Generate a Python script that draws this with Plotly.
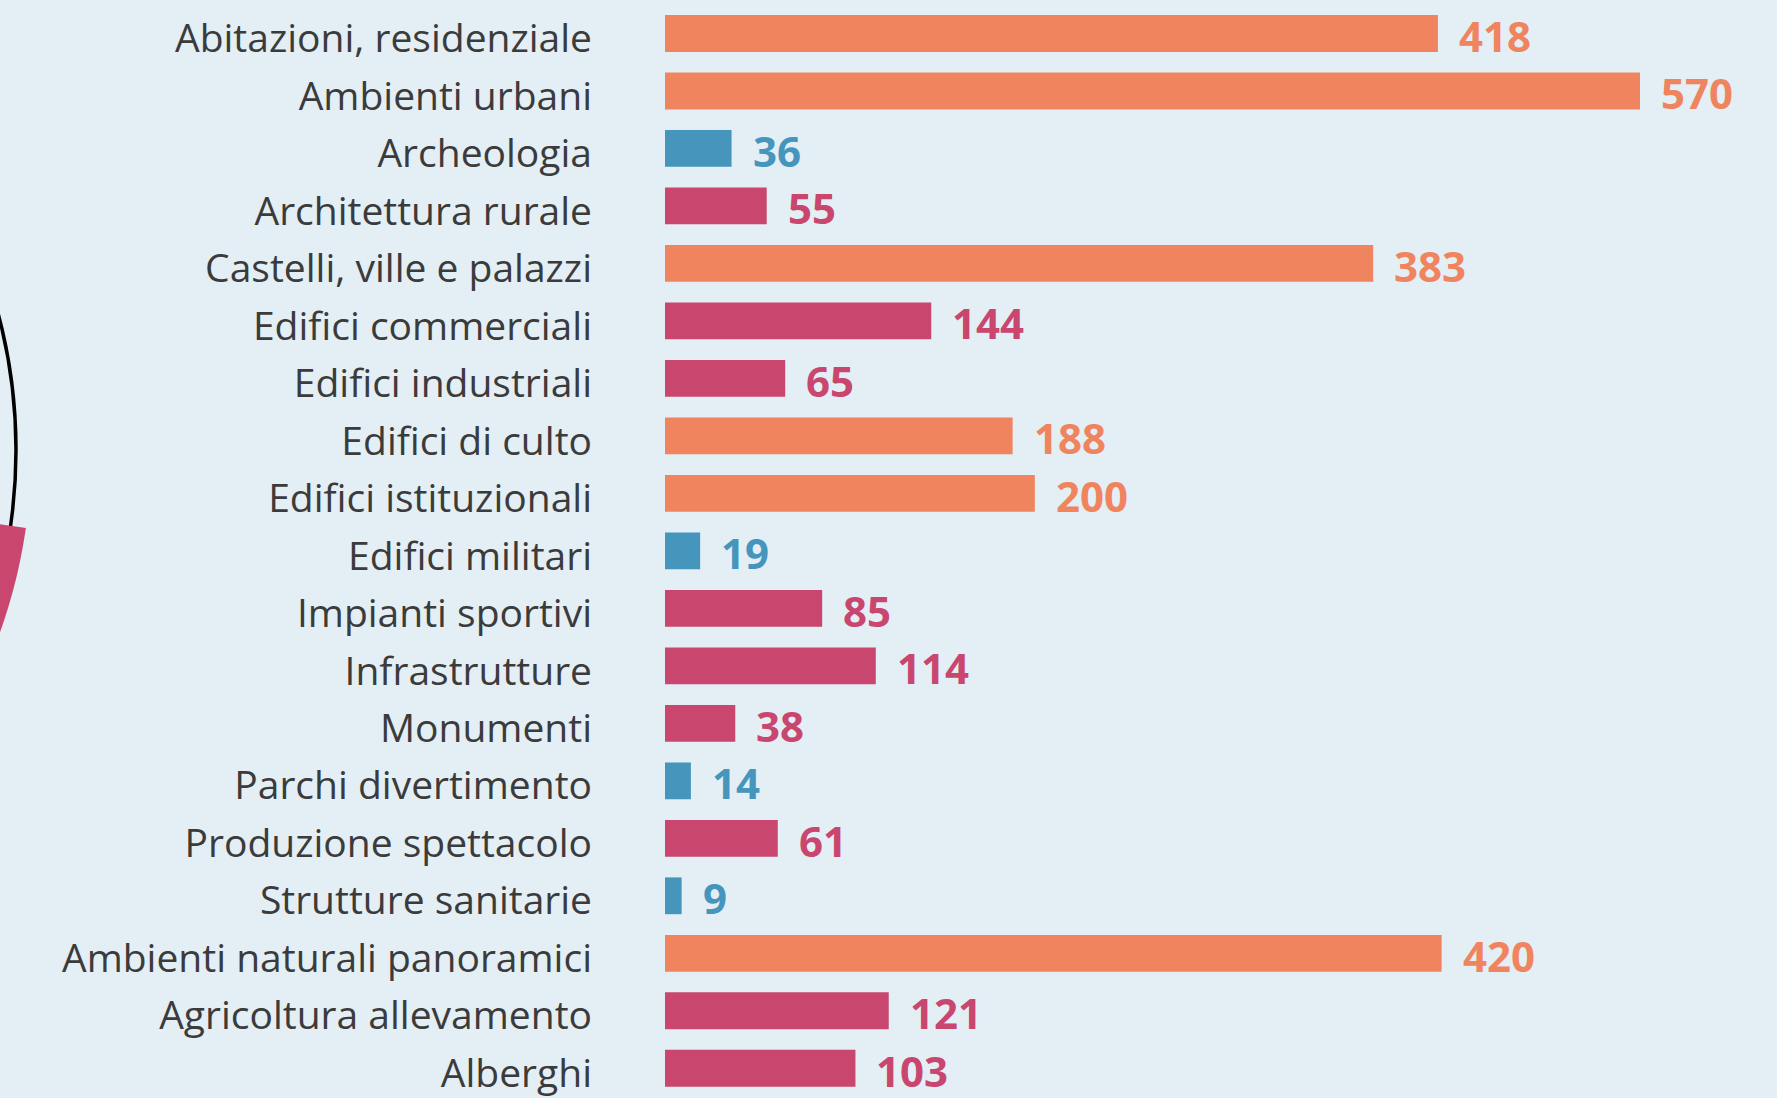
import numpy as np
import plotly.graph_objects as go

categories = [
    "Abitazioni, residenziale", "Ambienti urbani", "Archeologia", "Architettura rurale",
    "Castelli, ville e palazzi", "Edifici commerciali", "Edifici industriali", "Edifici di culto",
    "Edifici istituzionali", "Edifici militari", "Impianti sportivi", "Infrastrutture",
    "Monumenti", "Parchi divertimento", "Produzione spettacolo", "Strutture sanitarie",
    "Ambienti naturali panoramici", "Agricoltura allevamento", "Alberghi",
]
values = [418, 570, 36, 55, 383, 144, 65, 188, 200, 19, 85, 114, 38, 14, 61, 9, 420, 121, 103]

ORANGE = "#ef845e"
PINK = "#c9466f"
BLUE = "#4595bc"
BG = "#e3eef5"

def color_for(v):
    if v >= 150:
        return ORANGE
    if v >= 37:
        return PINK
    return BLUE

colors = [color_for(v) for v in values]

XMAX = 527.3  # axis range cap (longest bar is clipped at the plot edge)

# layout geometry (pixels)
W_TOT, H_TOT = 1777, 1098
ML, MR, MT, MB = 665, 137, 1, 1
PW = W_TOT - ML - MR
PH = H_TOT - MT - MB

def px2paper(px, py):
    return (px - ML) / PW, 1 - (py - MT) / PH

fig = go.Figure()
fig.add_trace(go.Bar(
    x=values, y=categories, orientation="h",
    marker=dict(color=colors, line=dict(width=0)),
    hoverinfo="x+y",
))

annotations = []
for c, v, col in zip(categories, values, colors):
    annotations.append(dict(
        x=min(v, XMAX), y=c, xref="x", yref="y", text=str(v), showarrow=False,
        xanchor="left", yanchor="middle", xshift=19, yshift=-2,
        font=dict(family="Open Sans", size=42, color=col, weight="bold"),
    ))

# decorative partial pie / circle at the left edge
cx, cy, r_circ, r_pie = -512, 450, 528, 543.5
x0, y0 = px2paper(cx - r_circ, cy - r_circ)
x1, y1 = px2paper(cx + r_circ, cy + r_circ)
shapes = [dict(type="circle", xref="paper", yref="paper", x0=x0, x1=x1, y0=y1, y1=y0,
               line=dict(color="#000000", width=3.5), fillcolor="rgba(0,0,0,0)", layer="above")]
angs = np.radians(np.linspace(8.24, 60, 60))
pts = [(cx, cy)] + [(cx + r_pie * np.cos(a), cy + r_pie * np.sin(a)) for a in angs]
path = ""
for i, (px, py) in enumerate(pts):
    X, Y = px2paper(px, py)
    path += ("M" if i == 0 else "L") + f"{X:.5f},{Y:.5f} "
path += "Z"
shapes.append(dict(type="path", xref="paper", yref="paper", path=path,
                   fillcolor=PINK, line=dict(width=0), layer="above"))

fig.update_layout(
    width=W_TOT, height=H_TOT, autosize=False,
    paper_bgcolor=BG, plot_bgcolor=BG,
    margin=dict(l=ML, r=MR, t=MT, b=MB, pad=0),
    bargap=0.36,
    showlegend=False,
    annotations=annotations,
    shapes=shapes,
    xaxis=dict(range=[0, XMAX], visible=False, fixedrange=True),
    yaxis=dict(autorange="reversed", showgrid=False, zeroline=False, showline=False,
               ticks="", ticklabelstandoff=72, ticklabelshift=-5,
               tickfont=dict(family="Open Sans", size=39, color="#3b3b3b")),
)

fig.write_html(
    "out.html",
    config={"displayModeBar": False},
    post_script="document.body.style.margin='0';document.body.style.overflow='hidden';"
                f"document.body.style.background='{BG}';",
)
